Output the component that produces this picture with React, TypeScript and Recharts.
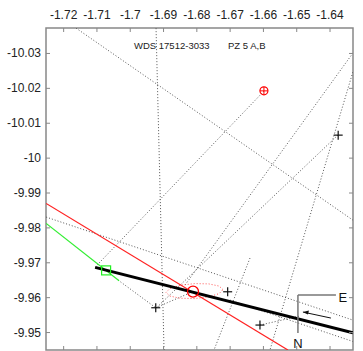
import React from 'react';
import { ComposedChart, XAxis, YAxis, Line, Scatter, ReferenceArea } from 'recharts';

const xTicks = [-1.72, -1.71, -1.7, -1.69, -1.68, -1.67, -1.66, -1.65, -1.64];
const yTicks = [-10.03, -10.02, -10.01, -10, -9.99, -9.98, -9.97, -9.96, -9.95];
const xDomain: [number, number] = [-1.7253, -1.6331];
const yDomain: [number, number] = [-10.0373, -9.945];

const titleLeft = 'WDS 17512-3033';
const titleRight = 'PZ 5 A,B';

const orbitLine = [
  { x: -1.71055, y: -9.96868 },
  { x: -1.63315, y: -9.94995 },
];
const redLine = [
  { x: -1.72525, y: -9.98702 },
  { x: -1.65264, y: -9.94499 },
];
const greenLine = [
  { x: -1.72525, y: -9.98129 },
  { x: -1.70335, y: -9.96484 },
];

const dottedLines = [
  [{ x: -1.71625, y: -10.03725 }, { x: -1.63315, y: -9.98224 }],
  [{ x: -1.69225, y: -10.03725 }, { x: -1.68985, y: -9.94499 }],
  [{ x: -1.65985, y: -10.0192 }, { x: -1.71025, y: -9.96905 }],
  [{ x: -1.63315, y: -10.03009 }, { x: -1.68355, y: -9.96361 }],
  [{ x: -1.63315, y: -10.02464 }, { x: -1.65804, y: -9.94499 }],
  [{ x: -1.63765, y: -10.00659 }, { x: -1.69225, y: -9.95702 }],
  [{ x: -1.72525, y: -9.9831 }, { x: -1.63315, y: -9.95358 }],
  [{ x: -1.66104, y: -9.95215 }, { x: -1.64904, y: -9.95473 }],
  [{ x: -1.67005, y: -9.95931 }, { x: -1.63315, y: -9.94745 }],
  [{ x: -1.70365, y: -9.96504 }, { x: -1.69234, y: -9.95711 }],
  [{ x: -1.69234, y: -9.95711 }, { x: -1.68115, y: -9.96175 }],
  [{ x: -1.66404, y: -9.97135 }, { x: -1.67485, y: -9.94499 }],
];

const ellipse = [
  { x: -1.67215, y: -9.96229 },
  { x: -1.67329, y: -9.96332 },
  { x: -1.67642, y: -9.96395 },
  { x: -1.6807, y: -9.96404 },
  { x: -1.68497, y: -9.96355 },
  { x: -1.68811, y: -9.96261 },
  { x: -1.68925, y: -9.96149 },
  { x: -1.68811, y: -9.96046 },
  { x: -1.68497, y: -9.95983 },
  { x: -1.6807, y: -9.95974 },
  { x: -1.67642, y: -9.96023 },
  { x: -1.67329, y: -9.96117 },
  { x: -1.67215, y: -9.96229 },
];

const crosses = [
  { x: -1.63755, y: -10.00659 },
  { x: -1.67074, y: -9.96169 },
  { x: -1.69234, y: -9.95711 },
  { x: -1.66104, y: -9.95215 },
];
const redTarget = [{ x: -1.65985, y: -10.01928 }];
const redCircle = [{ x: -1.68115, y: -9.96175 }];
const greenSquare = [{ x: -1.70725, y: -9.96782 }];
const compassAnchor = [{ x: -1.64964, y: -9.96075 }];

const PT = 28;
const PB = 350;
const PL = 46;
const PR = 353;
const FONT = 'Liberation Sans, Arial, sans-serif';

const fmt = (v: number) => String(Number(v.toFixed(2)));

const XTick = (props: any) => {
  const { x, payload } = props;
  return (
    <g>
      <text x={x} y={19} textAnchor="middle" fontSize={12} fontFamily={FONT} fill="#222">
        {fmt(payload.value)}
      </text>
      <line x1={x} x2={x} y1={PT} y2={PT + 4} stroke="#888" />
      <line x1={x} x2={x} y1={PB} y2={PB - 4} stroke="#888" />
    </g>
  );
};

const YTick = (props: any) => {
  const { y, payload } = props;
  return (
    <g>
      <text x={41} y={y + 4} textAnchor="end" fontSize={12} fontFamily={FONT} fill="#222">
        {fmt(payload.value)}
      </text>
      <line x1={PL} x2={PL + 4} y1={y} y2={y} stroke="#888" />
      <line x1={PR} x2={PR - 4} y1={y} y2={y} stroke="#888" />
    </g>
  );
};

const CrossShape = (p: any) => (
  <g>
    <line x1={p.cx - 4.5} x2={p.cx + 4.5} y1={p.cy} y2={p.cy} stroke="#111" strokeWidth={1.2} />
    <line x1={p.cx} x2={p.cx} y1={p.cy - 4.5} y2={p.cy + 4.5} stroke="#111" strokeWidth={1.2} />
  </g>
);

const TargetShape = (p: any) => (
  <g>
    <circle cx={p.cx} cy={p.cy} r={4} fill="none" stroke="#ff0000" strokeWidth={1.2} />
    <line x1={p.cx - 4} x2={p.cx + 4} y1={p.cy} y2={p.cy} stroke="#ff0000" strokeWidth={1} />
    <line x1={p.cx} x2={p.cx} y1={p.cy - 4} y2={p.cy + 4} stroke="#ff0000" strokeWidth={1} />
  </g>
);

const CircleShape = (p: any) => (
  <circle cx={p.cx} cy={p.cy} r={5.5} fill="none" stroke="#ff0000" strokeWidth={1.3} />
);

const SquareShape = (p: any) => (
  <rect x={p.cx - 4.5} y={p.cy - 4.5} width={9} height={9} fill="none" stroke="#22ee22" strokeWidth={1.2} />
);

const CompassShape = (p: any) => {
  const { cx, cy } = p;
  return (
    <g>
      <line x1={cx} x2={cx + 38} y1={cy} y2={cy} stroke="#777" strokeWidth={1.5} />
      <line x1={cx} x2={cx} y1={cy} y2={cy + 38} stroke="#777" strokeWidth={1.5} />
      <text x={cx + 45} y={cy + 7} textAnchor="middle" fontSize={13} fontFamily={FONT} fill="#111">E</text>
      <text x={cx} y={cy + 53} textAnchor="middle" fontSize={13} fontFamily={FONT} fill="#111">N</text>
      <line x1={cx + 33} x2={cx + 5} y1={cy + 23} y2={cy + 17} stroke="#111" strokeWidth={1} />
      <path d={`M${cx + 5},${cy + 17} L${cx + 11},${cy + 15.5} L${cx + 10},${cy + 19.5} Z`} fill="#111" />
    </g>
  );
};

export default function App() {
  return (
    <div style={{ position: 'absolute', left: 0, top: 0, width: 363, height: 351, background: '#fff' }}>
      <ComposedChart
        width={363}
        height={351}
        margin={{ top: 8, left: 6, right: 10, bottom: 1 }}
      >
        <XAxis
          dataKey="x"
          type="number"
          orientation="top"
          domain={xDomain}
          ticks={xTicks}
          allowDataOverflow
          height={20}
          axisLine={false}
          tickLine={false}
          tick={<XTick />}
          interval={0}
        />
        <YAxis
          dataKey="y"
          type="number"
          domain={yDomain}
          ticks={yTicks}
          reversed
          allowDataOverflow
          width={40}
          axisLine={false}
          tickLine={false}
          tick={<YTick />}
          interval={0}
        />
        <ReferenceArea
          x1={xDomain[0]}
          x2={xDomain[1]}
          y1={yDomain[0]}
          y2={yDomain[1]}
          fill="none"
          fillOpacity={0}
          stroke="#888"
          strokeWidth={1.5}
        />
        {dottedLines.map((seg, i) => (
          <Line
            key={'d' + i}
            data={seg}
            dataKey="y"
            stroke="#555"
            strokeWidth={1}
            strokeDasharray="1 2"
            dot={false}
            activeDot={false}
            isAnimationActive={false}
          />
        ))}
        <Line data={ellipse} dataKey="y" stroke="#ff5555" strokeWidth={1} strokeDasharray="1 2" dot={false} activeDot={false} isAnimationActive={false} />
        <Line data={greenLine} dataKey="y" stroke="#33ee33" strokeWidth={1.2} dot={false} activeDot={false} isAnimationActive={false} />
        <Line data={redLine} dataKey="y" stroke="#ff2222" strokeWidth={1.2} dot={false} activeDot={false} isAnimationActive={false} />
        <Line data={orbitLine} dataKey="y" stroke="#000" strokeWidth={3} dot={false} activeDot={false} isAnimationActive={false} />
        <Scatter data={crosses} dataKey="y" shape={<CrossShape />} isAnimationActive={false} />
        <Scatter data={redTarget} dataKey="y" shape={<TargetShape />} isAnimationActive={false} />
        <Scatter data={redCircle} dataKey="y" shape={<CircleShape />} isAnimationActive={false} />
        <Scatter data={greenSquare} dataKey="y" shape={<SquareShape />} isAnimationActive={false} />
        <Scatter data={compassAnchor} dataKey="y" shape={<CompassShape />} isAnimationActive={false} />
      </ComposedChart>
      <div
        style={{
          position: 'absolute',
          left: 134,
          top: 40,
          fontFamily: FONT,
          fontSize: 9.5,
          color: '#222',
          whiteSpace: 'pre',
          lineHeight: '12px',
        }}
      >
        {titleLeft + '       ' + titleRight}
      </div>
    </div>
  );
}
